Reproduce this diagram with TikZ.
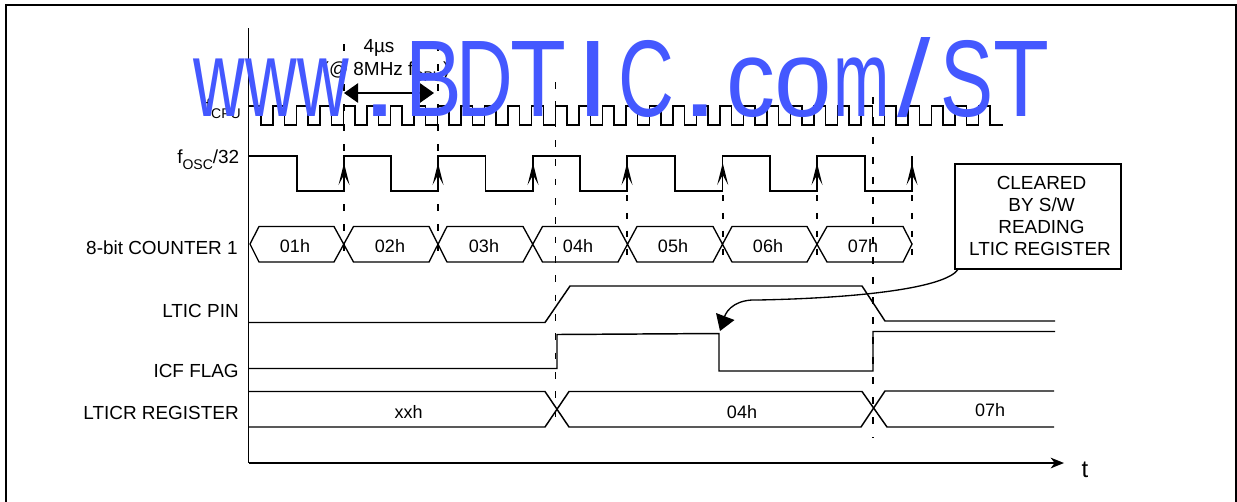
\documentclass[tikz,border=0pt]{standalone}
\usepackage{fontspec}
\setmainfont{Liberation Sans}
\usetikzlibrary{arrows.meta}
\newlength\pxu \setlength\pxu{.75pt}
\newcommand\wmc[3]{\rlap{\hskip#1\pxu\scalebox{#2}[1]{#3}}}
\newcommand\subtxt[1]{\raisebox{-6\pxu}{\fontsize{10.5pt}{12pt}\selectfont #1}}
\definecolor{wmblue}{RGB}{68,88,255}
\tikzset{
  frameline/.style={line width=1.5pt,black},
  axisline/.style={line width=1.2pt,black},
  signal/.style={line width=1.1pt,black,line join=miter},
  busline/.style={line width=1pt,black},
  dashline/.style={line width=1.3pt,black,dash pattern=on 5.2pt off 9.8pt},
  dashshort/.style={line width=1.3pt,black,dash pattern=on 4.8pt off 8.6pt},
  lbl/.style={font=\fontsize{14.2pt}{16pt}\selectfont,inner sep=0pt,anchor=base east},
  val/.style={font=\fontsize{13.5pt}{16pt}\selectfont,inner sep=0pt,anchor=base},
  txt/.style={font=\fontsize{14.2pt}{16.5pt}\selectfont,inner sep=0pt,anchor=base},
}
\begin{document}
\begin{tikzpicture}[x=.75pt,y=-.75pt]
\useasboundingbox (0,0) rectangle (1237,501);
% frame
\draw[frameline] (6,502) -- (6,5) -- (1236,5) -- (1236,502);
% axes
\coordinate (ytop) at (248.5,28);
\coordinate (orig) at (248.5,463);
\coordinate (tend) at (1064,463);
\draw[axisline] (ytop) -- (orig);
\draw[axisline,-{Stealth[length=10pt,width=8pt,inset=3pt]}] (orig) -- (tend);
\node[inner sep=0pt,anchor=base,font=\fontsize{18pt}{20pt}\selectfont] (tlabel) at (1085,477) {t};
% dashed verticals
\foreach \x in {344,438}
  \draw[dashline] (\x,44) -- (\x,256);
\draw[dashline,dash pattern=on 5pt off 9.5pt] (555.5,82) -- (555.5,422);
\draw[dashline] (873,97) -- (873,438);
\foreach \x in {627,722.7,817,912}
  \draw[dashshort] (\x,195) -- (\x,256);
% clock
\draw[signal] (248,106) foreach \k in {0,...,30} { -- ({261+23.52*\k},106) -- ({261+23.52*\k},125) -- ({273+23.52*\k},125) -- ({273+23.52*\k},106)} -- (990,106) -- (990,125) -- (1003,125);
% fosc/32
\draw[signal] (248,156) -- (297,156) -- (297,191) -- (344,191) -- (344,156) -- (391,156) -- (391,191) -- (438,191) -- (438,156) -- (485.5,156) -- (485.5,191) -- (533,191) -- (533,156) -- (580,156) -- (580,191) -- (627,191) -- (627,156) -- (675,156) -- (675,191) -- (722.7,191) -- (722.7,156) -- (770,156) -- (770,191) -- (817,191) -- (817,156) -- (865,156) -- (865,191) -- (912,191) -- (912,156);
\foreach \x in {344,438,533,627,722.7,817,912}
  \fill[black] (\x,163) -- (\x+5.5,185) -- (\x,175) -- (\x-5.5,185) -- cycle;
% counter bus
\draw[busline] (250,244) -- (259,226.5) -- (334,226.5) -- (353.5,262) -- (429,262) -- (447,226.5) -- (523,226.5) -- (542.5,262) -- (618,262) -- (637,226.5) -- (713,226.5) -- (732,262) -- (807,262) -- (827,226.5) -- (903,226.5) -- (912,244) -- (903,262) -- (827,262) -- (807,226.5) -- (732,226.5) -- (713,262) -- (637,262) -- (618,226.5) -- (542.5,226.5) -- (523,262) -- (447,262) -- (429,226.5) -- (353.5,226.5) -- (334,262) -- (259,262) -- cycle;
% LTIC pin
\draw[signal] (248,322.5) -- (545,322.5) -- (570,286) -- (862,286) -- (885,321) -- (1055,321);
% ICF flag
\draw[signal] (249,368.5) -- (557,368.5) -- (557,334.5) -- (719,333.5) -- (719,371) -- (873,371) -- (873,331.5) -- (1055,331.5);
% LTICR bus
\draw[signal] (248,391.5) -- (545,391.5) -- (569,427) -- (861,427) -- (885,391) -- (1054,391);
\draw[signal] (248,427) -- (545,427) -- (569,391.5) -- (862,391.5) -- (887,427) -- (1054,427);
% left labels
\node[lbl] (lcpu) at (241,112) {f\subtxt{CPU}};
\node[lbl] (losc) at (239.5,163.5) {f\subtxt{OSC}/32};
\node[lbl] (lcnt) at (238,254) {8-bit COUNTER 1};
\node[lbl] (lpin) at (239,317.7) {LTIC PIN};
\node[lbl] (lflag) at (239,377) {ICF FLAG};
\node[lbl] (lreg) at (239,419.5) {LTICR REGISTER};
% bus values
\foreach \x/\t in {295/01h,390/02h,484/03h,578/04h,673/05h,768/06h,863/07h}
  \node[val] (c\t) at (\x,252) {\t};
\node[val] (vxx) at (408.5,418) {xxh};
\node[val] (v04) at (742,418) {04h};
\node[val] (v07) at (990,416) {07h};
% period
\node[txt] (lfour) at (379,52) {4µs};
\node[txt] (lmhz) at (386,75) {(@ 8MHz f\subtxt{CPU})};
\coordinate (pl) at (344,93);
\coordinate (pr) at (434,93);
\draw[line width=1.1pt,{Triangle[length=10.5pt,width=14.5pt]}-{Triangle[length=10.5pt,width=14.5pt]}] (pl) -- (pr);
% note box
\node[draw,line width=1.1pt,fill=white,minimum width=124.5pt,minimum height=78.7pt,inner sep=0pt] (clearbox) at (1038,216.5) {};
\node[txt] (n1) at (1041.5,189) {CLEARED};
\node[txt] (n2) at (1041.5,211) {BY S/W};
\node[txt] (n3) at (1041.5,233) {READING};
\node[txt] (n4) at (1040,255) {LTIC REGISTER};
\coordinate (cs) at (958,269.5);
\coordinate (cm) at (758,300);
\coordinate (ctip) at (720,331);
\draw[line width=1pt] (cs) .. controls (945,288) and (860,298) .. (cm);
\draw[line width=1pt] (cm) .. controls (738,299) and (727,308) .. (724,318);
\fill[black] (ctip) -- (716,313) -- (734.5,320) -- cycle;
% watermark
\node[inner sep=0pt,anchor=base west,text=wmblue,font=\fontsize{81.75pt}{90pt}\selectfont] (wm) at (0,116) {\wmc{193}{.655}{www}\wmc{361}{1.22}{.}\wmc{405}{.78}{B}\wmc{456}{.72}{D}\wmc{510}{.84}{T}\wmc{576}{1.1}{I}\wmc{618}{.71}{C}\wmc{680}{1.3}{.}\wmc{726}{.9}{c}\wmc{774}{.95}{o}\wmc{832.5}{.62}{m}\wmc{897}{1.1}{/}\wmc{940}{.73}{S}\wmc{993}{.84}{T}};
\end{tikzpicture}
\end{document}
